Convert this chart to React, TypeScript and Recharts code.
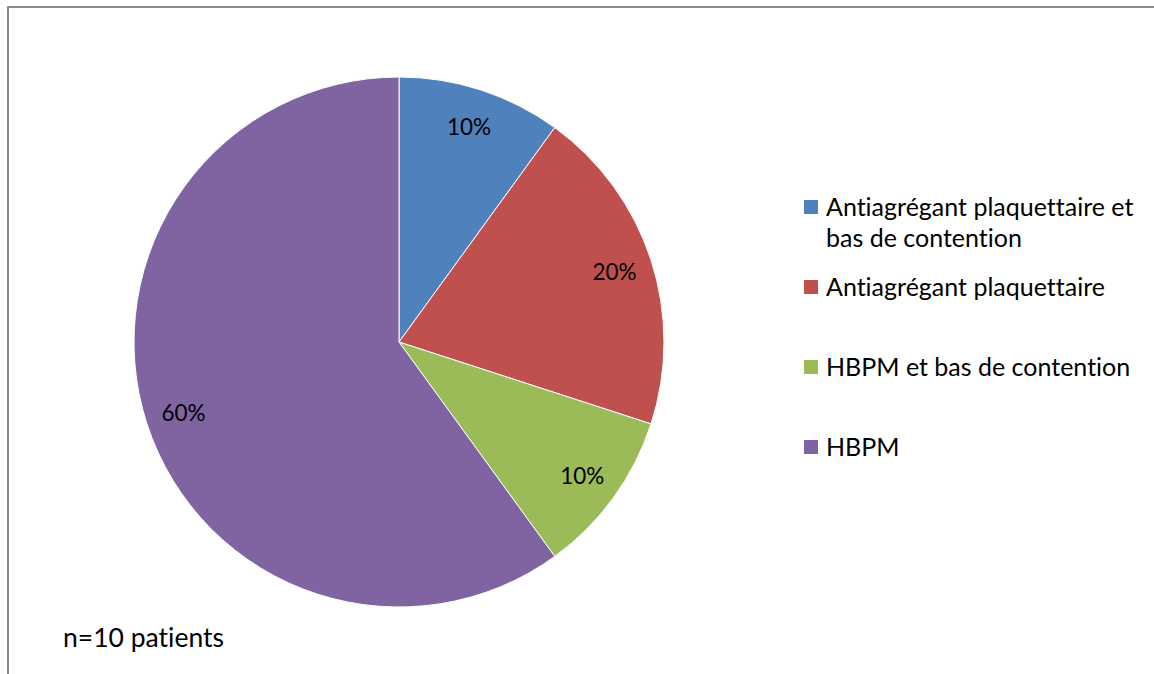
import { PieChart, Pie, Cell, Legend } from "recharts";

// Treatment categories and their share of patients (%)
const categories = [
    "Antiagrégant plaquettaire et bas de contention",
    "Antiagrégant plaquettaire",
    "HBPM et bas de contention",
    "HBPM",
];
const shares = [10, 20, 10, 60];
const COLORS = ["#4F81BD", "#C0504D", "#9BBB59", "#8064A2"];
const footnote = "n=10 patients";

const FONT = "Lato, 'Open Sans', sans-serif";

const data = categories.map((name, i) => ({ name, value: shares[i] }));

const RADIAN = Math.PI / 180;

// Percent label placed inside the slice
function renderLabel(props: any) {
    const { cx, cy, midAngle, outerRadius, percent } = props;
    const r = outerRadius * 0.855;
    const x = cx + r * Math.cos(-midAngle * RADIAN);
    const y = cy + r * Math.sin(-midAngle * RADIAN);
    return (
        <text
            x={x}
            y={y}
            fill="#000"
            textAnchor="middle"
            dominantBaseline="central"
            fontSize={22.5}
            fontFamily={FONT}
        >
            {`${Math.round(percent * 100)}%`}
        </text>
    );
}

// Legend in the same order as the slices
function LegendContent() {
    return (
        <div style={{ fontFamily: FONT, fontSize: 25, color: "#000", fontVariantLigatures: "none" }}>
            {data.map((d, i) => (
                <div key={d.name} style={{ display: "flex", height: 80, alignItems: "flex-start" }}>
                    <div
                        style={{
                            width: 14,
                            height: 14,
                            background: COLORS[i],
                            marginTop: 9,
                            marginRight: 8,
                            flexShrink: 0,
                        }}
                    />
                    <div style={{ lineHeight: "31px", width: 320 }}>{d.name}</div>
                </div>
            ))}
        </div>
    );
}

export default function App() {
    return (
        <div style={{ position: "absolute", left: 0, top: 0, width: 1154, height: 674, background: "#fff", overflow: "hidden" }}>
            <div
                style={{
                    position: "absolute",
                    left: 7,
                    top: 6,
                    width: 1200,
                    height: 720,
                    border: "2px solid #8a8a8a",
                }}
            />
            <div style={{ position: "absolute", left: 0, top: 0 }}>
                <PieChart width={1154} height={674} margin={{ top: 0, right: 0, bottom: 0, left: 0 }}>
                    <Pie
                        data={data}
                        dataKey="value"
                        nameKey="name"
                        cx={399}
                        cy={342}
                        outerRadius={265}
                        startAngle={90}
                        endAngle={-270}
                        stroke="#fff"
                        strokeWidth={1}
                        label={renderLabel}
                        labelLine={false}
                        isAnimationActive={false}
                    >
                        {data.map((_, i) => (
                            <Cell key={i} fill={COLORS[i]} />
                        ))}
                    </Pie>
                    <Legend
                        layout="vertical"
                        content={<LegendContent />}
                        wrapperStyle={{ left: 804, top: 191, width: 350 }}
                    />
                </PieChart>
            </div>
            <div
                style={{
                    position: "absolute",
                    left: 63,
                    top: 622,
                    fontFamily: FONT,
                    fontSize: 26.5,
                    lineHeight: "31px",
                    color: "#000",
                    fontVariantLigatures: "none",
                }}
            >
                {footnote}
            </div>
        </div>
    );
}
